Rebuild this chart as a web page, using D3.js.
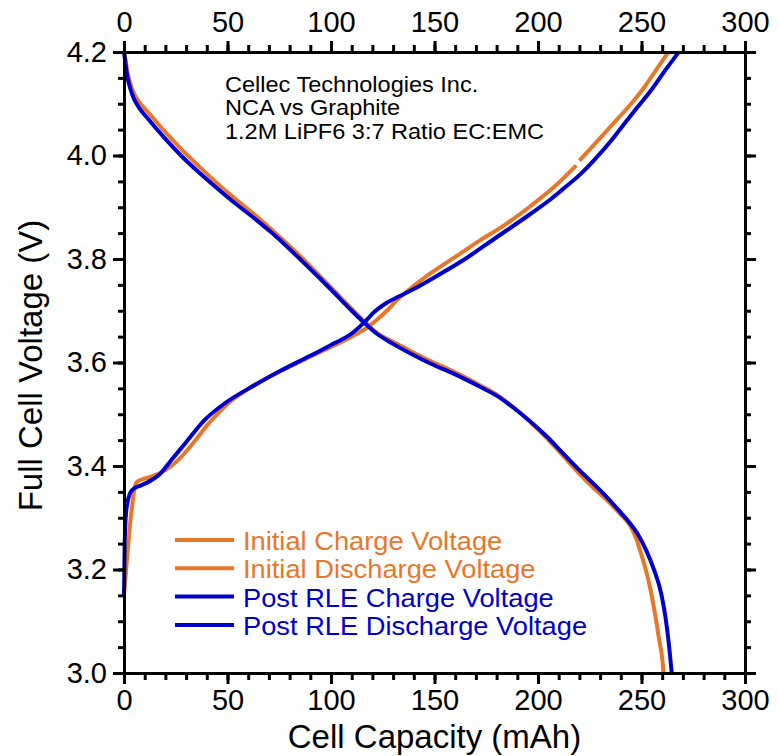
<!DOCTYPE html>
<html>
<head>
<meta charset="utf-8">
<script src="https://cdn.jsdelivr.net/npm/d3@7"></script>
<style>
	body { margin: 0; background: #ffffff; }
	text { font-family: "Liberation Sans", Arial, sans-serif; }
</style>
</head>
<body>
<div class="chart"></div>
<script>
	// data: [capacity mAh, voltage V]
	var initialCharge = [
		[0, 3.15], [1, 3.20], [2, 3.245], [3, 3.29], [4, 3.325], [5, 3.355], [6, 3.368],
		[8, 3.373], [12, 3.378], [16, 3.384], [20, 3.392], [25, 3.407], [30, 3.428],
		[35, 3.452], [40, 3.478], [45, 3.50], [50, 3.52], [60, 3.549], [70, 3.572],
		[80, 3.592], [90, 3.611], [100, 3.63], [110, 3.65], [118, 3.669], [122, 3.682],
		[127, 3.70], [132, 3.721], [140, 3.748], [148, 3.772], [160, 3.804], [172, 3.836],
		[184, 3.866], [196, 3.901], [208, 3.94], [218.5, 3.981], [219.2, null],
		[220, 3.99], [228, 4.025], [238, 4.069], [245, 4.10], [251, 4.13], [257, 4.165], [263, 4.20]
	];
	var initialDischarge = [
		[0, 4.20], [0.5, 4.19], [1.5, 4.165], [3, 4.14], [5, 4.118], [8, 4.10], [12, 4.082],
		[20, 4.045], [28, 4.011], [36, 3.98], [44, 3.95], [52, 3.922], [60, 3.896],
		[71, 3.858], [85, 3.806], [100, 3.745], [110, 3.704], [116, 3.68], [122, 3.658],
		[130, 3.64], [140, 3.619], [148, 3.603], [160, 3.581], [172, 3.556], [180, 3.538],
		[188, 3.514], [196, 3.486], [204, 3.455], [212, 3.42], [220, 3.385], [227, 3.357],
		[233, 3.335], [240, 3.306], [244.5, 3.285], [247.7, 3.257], [250, 3.228],
		[252.5, 3.193], [254.5, 3.158], [256.5, 3.115], [258.5, 3.065], [260.5, 3.006], [260.6, 3.0]
	];
	var postCharge = [
		[0, 3.15], [0.3, 3.24], [0.8, 3.30], [1.5, 3.325], [3, 3.348], [5, 3.357], [8, 3.362],
		[13, 3.372], [17, 3.383], [23, 3.412], [30, 3.446], [39, 3.489], [49, 3.522],
		[63, 3.556], [76, 3.585], [89, 3.611], [100, 3.634], [110, 3.656], [116, 3.677],
		[121, 3.698], [126, 3.713], [133, 3.728], [140, 3.742], [148, 3.76], [164, 3.798],
		[180, 3.842], [196, 3.886], [205, 3.912], [212, 3.935], [220, 3.962], [228, 3.995],
		[235, 4.027], [242, 4.063], [248, 4.093], [255, 4.128], [261, 4.162], [268, 4.20]
	];
	var postDischarge = [
		[0, 4.20], [0.5, 4.185], [1.5, 4.155], [3, 4.13], [5, 4.108], [7, 4.094], [12, 4.069],
		[20, 4.032], [28, 3.998], [36, 3.968], [44, 3.94], [52, 3.913], [60, 3.888],
		[71, 3.852], [85, 3.800], [100, 3.741], [110, 3.700], [116, 3.677], [122, 3.656],
		[130, 3.636], [140, 3.614], [148, 3.598], [160, 3.577], [172, 3.553], [180, 3.536],
		[188, 3.513], [196, 3.487], [204, 3.458], [212, 3.425], [220, 3.392], [227, 3.365],
		[233, 3.341], [240, 3.31], [244.5, 3.289], [249, 3.263], [252.5, 3.235], [256, 3.20],
		[259.5, 3.154], [261.5, 3.11], [263, 3.064], [264.6, 3.0]
	];

	var seriesNames = ["Initial Charge Voltage", "Initial Discharge Voltage",
		"Post RLE Charge Voltage", "Post RLE Discharge Voltage"];
	var seriesColors = ["#E8772A", "#E8772A", "#0000CC", "#0000CC"];
	var seriesData = [initialCharge, initialDischarge, postCharge, postDischarge];

	var noteLines = ["Cellec Technologies Inc.", "NCA vs Graphite", "1.2M LiPF6 3:7 Ratio EC:EMC"];

	var xDomain = [0, 300],
		yDomain = [3.0, 4.2];
	var xMajor = d3.range(0, 301, 50),
		xMinor = d3.range(0, 301, 10),
		yMajor = [3.0, 3.2, 3.4, 3.6, 3.8, 4.0, 4.2],
		yMinor = d3.range(0, 25).map(function(i) { return 3.0 + i * 0.05; });

	// set margins
	var margin = { left: 124, right: 34, top: 52, bottom: 83 },
		width = 779 - margin.left - margin.right,
		height = 756 - margin.top - margin.bottom;

	var svg = d3.select(".chart")
		.append("svg")
			.attr("width", 779)
			.attr("height", 756)
		.append("g")
			.attr("transform", "translate(" + margin.left + "," + margin.top + ")");

	var x = d3.scaleLinear().domain(xDomain).range([0, width]);
	var y = d3.scaleLinear().domain(yDomain).range([height, 0]);

	svg.append("clipPath")
		.attr("id", "plotClip")
		.append("rect")
			.attr("x", -2).attr("y", -2)
			.attr("width", width + 4).attr("height", height + 4);

	// curves (orange first, blue on top)
	var line = d3.line()
		.defined(function(d) { return d[1] != null; })
		.x(function(d) { return x(d[0]); })
		.y(function(d) { return y(d[1]); })
		.curve(d3.curveMonotoneX);

	seriesData.forEach(function(data, i) {
		svg.append("path")
			.datum(data)
			.attr("clip-path", "url(#plotClip)")
			.attr("fill", "none")
			.attr("stroke", seriesColors[i])
			.attr("stroke-width", 4)
			.attr("stroke-linejoin", "round")
			.attr("d", line);
	});

	// axes: major + minor on all four sides, ticks outward
	function styleAxis(g) {
		g.selectAll("path").attr("stroke", "#000").attr("stroke-width", 3);
		g.selectAll("line").attr("stroke", "#000").attr("stroke-width", 3);
		g.selectAll("text")
			.attr("fill", "#000")
			.attr("font-size", "29px");
	}

	function minorAxis(axis, ticks, size) {
		return axis.tickValues(ticks).tickSize(size).tickFormat("").tickSizeOuter(0);
	}

	svg.append("g").attr("transform", "translate(0," + height + ")")
		.call(minorAxis(d3.axisBottom(x), xMinor, 7)).call(styleAxis);
	svg.append("g").attr("transform", "translate(0," + height + ")")
		.call(d3.axisBottom(x).tickValues(xMajor).tickSize(11).tickSizeOuter(0).tickPadding(5))
		.call(styleAxis);

	svg.append("g")
		.call(minorAxis(d3.axisTop(x), xMinor, 7)).call(styleAxis);
	svg.append("g")
		.call(d3.axisTop(x).tickValues(xMajor).tickSize(11).tickSizeOuter(0).tickPadding(9))
		.call(styleAxis);

	svg.append("g").call(minorAxis(d3.axisLeft(y), yMinor, 6)).call(styleAxis);
	svg.append("g")
		.call(d3.axisLeft(y).tickValues(yMajor).tickSize(11).tickSizeOuter(0).tickPadding(6)
			.tickFormat(d3.format(".1f")))
		.call(styleAxis);

	svg.append("g").attr("transform", "translate(" + width + ",0)")
		.call(minorAxis(d3.axisRight(y), yMinor, 6)).call(styleAxis);
	svg.append("g").attr("transform", "translate(" + width + ",0)")
		.call(d3.axisRight(y).tickValues(yMajor).tickSize(11).tickSizeOuter(0).tickFormat(""))
		.call(styleAxis);

	// axis titles
	svg.append("text")
		.attr("x", width / 2)
		.attr("y", height + 75)
		.attr("text-anchor", "middle")
		.attr("font-size", "33px")
		.text("Cell Capacity (mAh)");

	svg.append("text")
		.attr("transform", "translate(" + (-82) + "," + (height / 2 + 3) + ") rotate(-90)")
		.attr("text-anchor", "middle")
		.attr("font-size", "33px")
		.text("Full Cell Voltage (V)");

	// annotation
	noteLines.forEach(function(t, i) {
		svg.append("text")
			.attr("transform", "translate(" + (225 - margin.left) + "," + (92 - margin.top + i * 23.3) + ") scale(1.07,1)")
			.attr("font-size", "22px")
			.attr("fill", "#000")
			.text(t);
	});

	// legend
	var legend = svg.append("g")
		.attr("transform", "translate(" + (175 - margin.left) + "," + (550 - margin.top) + ")");

	seriesNames.forEach(function(name, i) {
		var legendRow = legend.append("g")
			.attr("transform", "translate(0, " + (i * 28.3) + ")");

		legendRow.append("line")
			.attr("x1", 0).attr("x2", 59)
			.attr("y1", -10).attr("y2", -10)
			.attr("stroke", seriesColors[i])
			.attr("stroke-width", 4);

		legendRow.append("text")
			.attr("transform", "translate(68,0) scale(1.07,1)")
			.attr("font-size", "25.5px")
			.attr("fill", seriesColors[i])
			.text(name);
	});
</script>
</body>
</html>
